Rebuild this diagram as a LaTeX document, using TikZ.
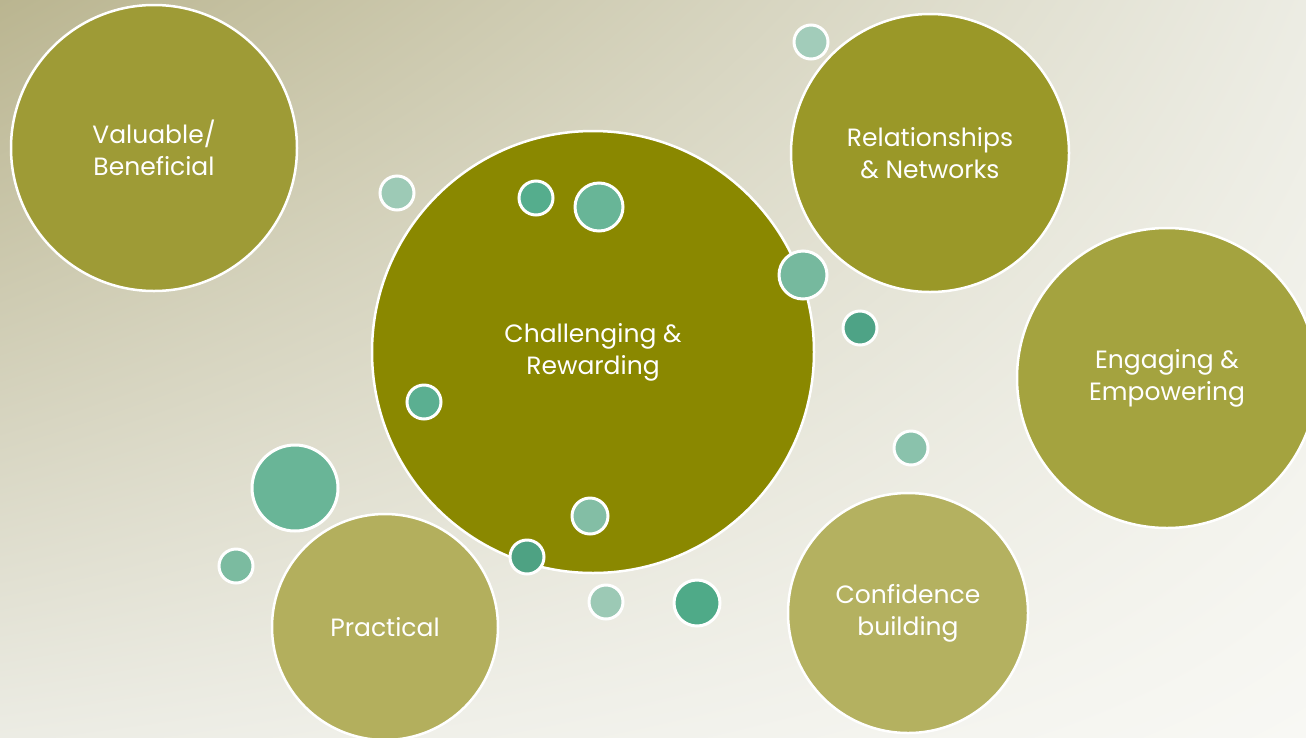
\documentclass[tikz,border=0pt]{standalone}
\usepackage{fontspec}
\setmainfont{Poppins}
\usetikzlibrary{shadings}
\begin{document}
\begin{tikzpicture}[x=1pt,y=-1pt,
  big/.style={circle,draw=white,line width=2.5pt,text=white,align=center,inner sep=0pt,font=\fontsize{25}{32}\selectfont},
  dot/.style={circle,draw=white,line width=3pt,inner sep=0pt}]
\definecolor{cVal}{HTML}{9E9B36}
\definecolor{cCha}{HTML}{8A8800}
\definecolor{cRel}{HTML}{9A9828}
\definecolor{cEng}{HTML}{A4A33F}
\definecolor{cPra}{HTML}{B3AF5D}
\definecolor{cCon}{HTML}{B4B160}
\definecolor{bgTL}{HTML}{BAB590}
\definecolor{bgTR}{HTML}{ECECE3}
\definecolor{bgBL}{HTML}{ECECE4}
\definecolor{bgBR}{HTML}{F8F8F4}
\useasboundingbox (0,0) rectangle (1306,737);
\shade[upper left=bgTL,upper right=bgTR,lower left=bgBL,lower right=bgBR] (0,0) rectangle (1306,737);
\begin{scope}
\clip (0,0) rectangle (1306,737);
\node[big,fill=cVal,minimum size=286pt] (val) at (154,148) {Valuable/\\Beneficial};
\node[big,fill=cRel,minimum size=278pt] (rel) at (930,153) {Relationships\\\& Networks};
\node[big,fill=cEng,minimum size=300pt] (eng) at (1167,378) {Engaging \&\\Empowering};
\node[big,fill=cPra,minimum size=226pt] (pra) at (385,627) {Practical};
\node[big,fill=cCon,minimum size=240pt] (con) at (908,613) {Confidence\\building};
\node[big,fill=cCha,minimum size=442pt] (cha) at (593,352) {Challenging \&\\Rewarding};
\node[dot,fill={rgb,255:red,162;green,204;blue,186},minimum size=34pt] (d1) at (811,42) {};
\node[dot,fill={rgb,255:red,157;green,202;blue,182},minimum size=34pt] (d2) at (397,193) {};
\node[dot,fill={rgb,255:red,85;green,173;blue,141},minimum size=34pt] (d3) at (536,198) {};
\node[dot,fill={rgb,255:red,104;green,181;blue,151},minimum size=48pt] (d4) at (599,207) {};
\node[dot,fill={rgb,255:red,118;green,185;blue,158},minimum size=48pt] (d5) at (803,275) {};
\node[dot,fill={rgb,255:red,78;green,163;blue,134},minimum size=34pt] (d6) at (860,328) {};
\node[dot,fill={rgb,255:red,91;green,175;blue,145},minimum size=34pt] (d7) at (424,402) {};
\node[dot,fill={rgb,255:red,105;green,181;blue,151},minimum size=86pt] (d8) at (295,488) {};
\node[dot,fill={rgb,255:red,123;green,187;blue,160},minimum size=34pt] (d9) at (236,566) {};
\node[dot,fill={rgb,255:red,131;green,190;blue,165},minimum size=36pt] (d10) at (590,516) {};
\node[dot,fill={rgb,255:red,78;green,162;blue,131},minimum size=34pt] (d11) at (527,557) {};
\node[dot,fill={rgb,255:red,156;green,201;blue,181},minimum size=34pt] (d12) at (606,602) {};
\node[dot,fill={rgb,255:red,79;green,170;blue,136},minimum size=46pt] (d13) at (697,603) {};
\node[dot,fill={rgb,255:red,138;green,194;blue,172},minimum size=34pt] (d14) at (911,448) {};
\end{scope}
\end{tikzpicture}
\end{document}
